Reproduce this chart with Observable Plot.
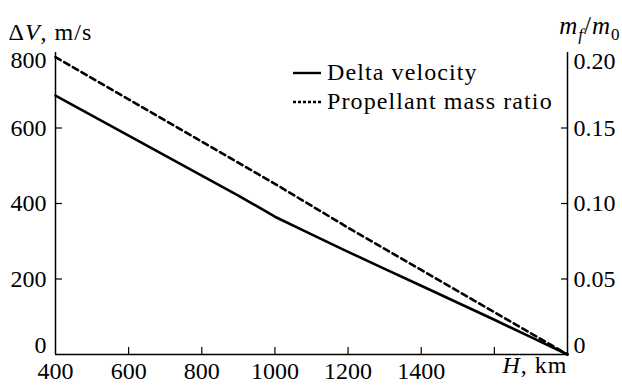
<!DOCTYPE html>
<html><head><meta charset="utf-8">
<script src="https://cdn.jsdelivr.net/npm/d3@7"></script>
<script src="https://cdn.jsdelivr.net/npm/@observablehq/plot@0.6"></script>
<style>
body{margin:0;background:#fff;}
#wrap{position:relative;width:622px;height:387px;font-family:"Liberation Serif",serif;}
.legend{position:absolute;left:293px;top:58px;font-family:"Liberation Serif",serif;font-size:24px;letter-spacing:1.1px;line-height:29px;color:#000;}
.legend div{display:flex;align-items:center;white-space:nowrap;}
.legend svg{margin-right:6px;}
</style></head><body><div id="wrap"></div>
<script>
// Data
const altitude = [400, 500, 600, 700, 800, 900, 1000, 1100, 1200, 1300, 1400, 1500, 1600, 1700, 1800];
const deltaV   = [686, 633, 580, 527, 474, 421, 365, 318, 272, 227, 182, 137, 92, 46, 0];
const ratioAltitude = [400, 600, 800, 1000, 1200, 1400, 1600, 1800];
const massRatio     = [0.197, 0.169, 0.141, 0.113, 0.084, 0.056, 0.028, 0];
const xTicks = [400, 600, 800, 1000, 1200, 1400, 1600];
const xTickLabels = ["400", "600", "800", "1000", "1200", "1400", ""];
const yTicks = [0, 200, 400, 600, 800];
const ratioTicks = [0, 0.05, 0.10, 0.15, 0.20];
const ratioTickLabels = ["0", "0.05", "0.10", "0.15", "0.20"];
const legendLabels = ["Delta velocity", "Propellant mass ratio"];

const k = 800 / 0.20; // right-axis to left-axis factor
const dvData = altitude.map((h, i) => ({h, v: deltaV[i]}));
const mrData = ratioAltitude.map((h, i) => ({h, v: massRatio[i] * k}));
const xLab = new Map(xTicks.map((t, i) => [t, xTickLabels[i]]));
const rLab = new Map(ratioTicks.map((t, i) => [t * k, ratioTickLabels[i]]));
const rT = ratioTicks.map(r => r * k);
const FS = 24;

const plot = Plot.plot({
  width: 622, height: 387,
  marginLeft: 55, marginRight: 55, marginTop: 52, marginBottom: 33,
  x: {domain: [400, 1800]},
  y: {domain: [0, 800]},
  style: {fontFamily: '"Liberation Serif",serif', fontSize: FS + "px", color: "#000", background: "#fff", overflow: "visible"},
  marks: [
    Plot.ruleX([400], {stroke: "#000", strokeWidth: 1.5}),
    Plot.ruleX([1800], {stroke: "#000", strokeWidth: 1.5}),
    Plot.ruleY([0], {stroke: "#000", strokeWidth: 1.5}),
    // inward ticks
    Plot.axisX(xTicks.slice(1), {anchor: "bottom", tickSize: 7, dy: -7, tickFormat: () => "", label: null, strokeWidth: 1.2}),
    Plot.axisY(yTicks.slice(1, 4), {anchor: "left", tickSize: 7, dx: 7, tickFormat: () => "", label: null, strokeWidth: 1.2}),
    Plot.axisY(rT.slice(1, 4), {anchor: "right", tickSize: 7, dx: -7, tickFormat: () => "", label: null, strokeWidth: 1.2}),
    // tick labels
    Plot.axisX(xTicks, {anchor: "bottom", tickSize: 0, tickPadding: 7, fontSize: FS, tickFormat: d => xLab.get(d), label: null}),
    Plot.axisY(yTicks.slice(1, 4), {anchor: "left", tickSize: 0, tickPadding: 9, fontSize: FS, label: null}),
    Plot.axisY([0], {anchor: "left", tickSize: 0, tickPadding: 9, dy: -9, fontSize: FS, label: null}),
    Plot.axisY([800], {anchor: "left", tickSize: 0, tickPadding: 9, dy: 8, fontSize: FS, label: null}),
    Plot.axisY(rT.slice(1, 4), {anchor: "right", tickSize: 0, tickPadding: 6, fontSize: FS, tickFormat: d => rLab.get(d), label: null}),
    Plot.axisY([rT[0]], {anchor: "right", tickSize: 0, tickPadding: 6, dy: -9, fontSize: FS, tickFormat: d => rLab.get(d), label: null}),
    Plot.axisY([rT[4]], {anchor: "right", tickSize: 0, tickPadding: 6, dy: 9, fontSize: FS, tickFormat: d => rLab.get(d), label: null}),
    // series
    Plot.line(dvData, {x: "h", y: "v", stroke: "#000", strokeWidth: 2.6}),
    Plot.line(mrData, {x: "h", y: "v", stroke: "#000", strokeWidth: 2.6, strokeDasharray: "6,4"}),
    // axis titles
    Plot.text(["ΔV, m/s"], {frameAnchor: "top-left", dx: -47, dy: -30, fontSize: FS, textAnchor: "start", className: "t-dv"}),
    Plot.text(["m_f/m_0"], {frameAnchor: "top-right", dx: 53, dy: -36, fontSize: 25, textAnchor: "end", className: "t-mr"}),
    Plot.text(["H, km"], {frameAnchor: "bottom-right", dx: 0, dy: 18, fontSize: FS, textAnchor: "end", className: "t-h"})
  ]
});

const svg = d3.select(plot);
svg.select(".t-dv text").attr("letter-spacing", "1").text(null).call(t => {
  t.append("tspan").text("Δ");
  t.append("tspan").attr("font-style", "italic").text("V");
  t.append("tspan").text(", m/s");
});
svg.select(".t-mr text").attr("letter-spacing", "1").text(null).call(t => {
  t.append("tspan").attr("font-style", "italic").text("m");
  t.append("tspan").attr("font-style", "italic").attr("font-size", "17px").attr("dy", "6").text("f");
  t.append("tspan").attr("dy", "-6").text("/");
  t.append("tspan").attr("font-style", "italic").text("m");
  t.append("tspan").attr("font-size", "17px").attr("dy", "6").text("0");
});
svg.select(".t-h text").attr("letter-spacing", "1").text(null).call(t => {
  t.append("tspan").attr("font-style", "italic").text("H");
  t.append("tspan").text(", km");
});

const wrap = document.getElementById("wrap");
wrap.appendChild(plot);
const legend = document.createElement("div");
legend.className = "legend";
const dashes = [null, "3,2"];
legendLabels.forEach((lab, i) => {
  const row = document.createElement("div");
  row.innerHTML = `<svg width="28" height="6"><line x1="0" x2="28" y1="3" y2="3" stroke="#000" stroke-width="2.4" ${dashes[i] ? `stroke-dasharray="${dashes[i]}"` : ""}/></svg><span>${lab}</span>`;
  legend.appendChild(row);
});
wrap.appendChild(legend);
</script>
</body></html>
